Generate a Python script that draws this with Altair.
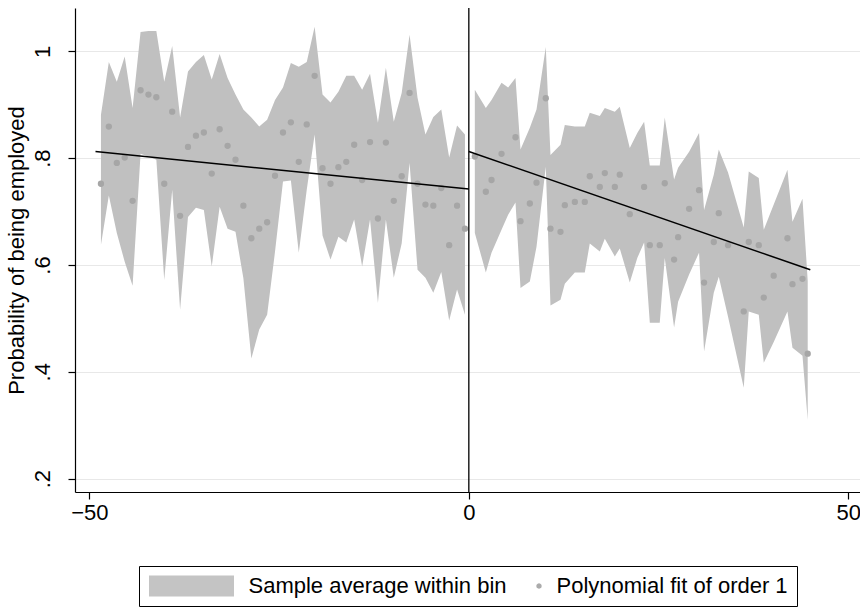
import altair as alt
import pandas as pd

# ---------------- data ----------------
left_x = [-48.48, -47.44, -46.39, -45.35, -44.31, -43.26, -42.22, -41.18, -40.14, -39.09,
          -38.05, -37.01, -35.96, -34.92, -33.88, -32.84, -31.79, -30.75, -29.71, -28.66,
          -27.62, -26.58, -25.54, -24.49, -23.45, -22.41, -21.36, -20.32, -19.28, -18.23,
          -17.19, -16.15, -15.11, -14.06, -13.02, -11.98, -10.93, -9.89, -8.85, -7.81,
          -6.76, -5.72, -4.68, -3.63, -2.59, -1.55, -0.51]
left_mean = [0.752, 0.859, 0.791, 0.801, 0.720, 0.927, 0.919, 0.914, 0.752, 0.887,
             0.692, 0.821, 0.842, 0.848, 0.771, 0.854, 0.823, 0.797, 0.711, 0.650,
             0.668, 0.680, 0.767, 0.848, 0.867, 0.793, 0.863, 0.954, 0.781, 0.752,
             0.783, 0.793, 0.825, 0.759, 0.830, 0.687, 0.829, 0.720, 0.766, 0.922,
             0.752, 0.713, 0.711, 0.744, 0.637, 0.711, 0.668]
left_hi = [0.881, 0.980, 0.943, 0.990, 0.894, 1.036, 1.038, 1.038, 0.943, 1.010,
           0.876, 0.962, 0.980, 0.993, 0.947, 0.995, 0.950, 0.919, 0.891, 0.876,
           0.859, 0.872, 0.909, 0.932, 0.978, 0.971, 0.980, 1.046, 0.919, 0.904,
           0.924, 0.954, 0.954, 0.928, 0.958, 0.866, 0.969, 0.868, 0.922, 1.031,
           0.913, 0.844, 0.877, 0.891, 0.801, 0.861, 0.844]
left_lo = [0.638, 0.730, 0.660, 0.606, 0.561, 0.808, 0.803, 0.797, 0.572, 0.741,
           0.516, 0.690, 0.707, 0.703, 0.597, 0.709, 0.668, 0.662, 0.575, 0.425,
           0.479, 0.507, 0.625, 0.756, 0.758, 0.623, 0.741, 0.844, 0.655, 0.610,
           0.653, 0.642, 0.685, 0.597, 0.685, 0.529, 0.685, 0.576, 0.640, 0.791,
           0.591, 0.576, 0.548, 0.587, 0.496, 0.554, 0.507]

right_x = [0.79, 2.24, 2.99, 4.31, 5.18, 6.15, 6.81, 8.04, 8.92, 10.14,
           10.76, 12.08, 12.65, 13.97, 15.28, 15.94, 17.26, 17.92, 19.24, 19.89,
           21.21, 22.20, 23.10, 23.85, 25.16, 25.82, 27.05, 27.58, 29.03, 30.34,
           31.00, 32.28, 32.94, 34.16, 36.23, 36.89, 38.21, 38.87, 40.18, 41.99,
           42.65, 43.97, 44.66]
right_mean = [0.803, 0.737, 0.759, 0.808, None, 0.839, 0.682, 0.715, 0.754, 0.912,
              0.668, 0.662, 0.712, 0.718, 0.718, 0.766, 0.746, 0.772, 0.746, 0.769,
              0.695, None, 0.746, 0.637, 0.637, 0.753, 0.610, 0.652, 0.705, 0.740,
              0.567, 0.643, 0.697, 0.637, 0.513, 0.643, 0.637, 0.539, 0.580, 0.650,
              0.564, 0.574, 0.434]
right_hi = [0.928, 0.894, 0.909, 0.941, 0.932, 0.950, 0.816, 0.857, 0.891, 1.008,
            0.806, 0.825, 0.862, 0.859, 0.859, 0.885, 0.879, 0.894, 0.887, 0.896,
            0.819, 0.847, 0.868, 0.786, 0.786, 0.876, 0.760, 0.782, 0.812, 0.847,
            0.703, 0.769, 0.816, 0.773, 0.670, 0.775, 0.763, 0.666, 0.713, 0.778,
            0.681, 0.724, 0.570]
right_lo = [0.660, 0.586, 0.623, 0.666, 0.694, 0.717, 0.557, 0.569, 0.634, 0.784,
            0.524, 0.535, 0.565, 0.586, 0.586, 0.640, 0.625, 0.649, 0.616, 0.631,
            0.567, 0.613, 0.642, 0.492, 0.492, 0.613, 0.483, 0.531, 0.582, 0.623,
            0.438, 0.548, 0.578, 0.503, 0.370, 0.513, 0.507, 0.417, 0.456, 0.513,
            0.445, 0.430, 0.310]

fit_left_x = [-49.2, 0.0]
fit_left_y = [0.8125, 0.742]
fit_right_x = [0.0, 45.0]
fit_right_y = [0.8125, 0.591]

cutoff = [0]
legend_labels = ["Sample average within bin", "Polynomial fit of order 1"]
x_ticks = [-50, 0, 50]
y_ticks = [0.2, 0.4, 0.6, 0.8, 1.0]
y_title = "Probability of being employed"

# ---------------- tables ----------------
bins = pd.concat([
    pd.DataFrame({"x": left_x, "mean": left_mean, "lo": left_lo, "hi": left_hi, "side": "left"}),
    pd.DataFrame({"x": right_x, "mean": right_mean, "lo": right_lo, "hi": right_hi, "side": "right"}),
], ignore_index=True)
fit = pd.concat([
    pd.DataFrame({"x": fit_left_x, "y": fit_left_y, "side": "left"}),
    pd.DataFrame({"x": fit_right_x, "y": fit_right_y, "side": "right"}),
], ignore_index=True)
cut_df = pd.DataFrame({"x": cutoff})
leg_df = pd.DataFrame({"series": legend_labels})

# ---------------- styling ----------------
FONT = "Liberation Sans"
AREA_GRAY = "#c0c0c0"
DOT_GRAY = "#a6a6a6"

xscale = alt.Scale(domain=[-51.9, 51.55], nice=False, zero=False)
yscale = alt.Scale(domain=[0.175, 1.081], nice=False, zero=False)

x_axis = alt.Axis(values=x_ticks, title=None, grid=False, domainColor="black", domainWidth=1.2,
                  tickColor="black", tickSize=7, tickWidth=1.2, labelFont=FONT, labelFontSize=22,
                  labelColor="black", labelPadding=3, labelFlush=False)
y_axis = alt.Axis(values=y_ticks, title=y_title, grid=True, gridColor="#e8e8e8", gridWidth=1.2,
                  domainColor="black", domainWidth=1.2, tickColor="black", tickSize=7, tickWidth=1.2,
                  labelFont=FONT, labelFontSize=22, labelColor="black", labelAngle=-90,
                  labelAlign="center", labelBaseline="alphabetic", labelPadding=19,
                  labelExpr="datum.value >= 1 ? '1' : substring(format(datum.value, '.1f'), 1)",
                  titleFont=FONT, titleFontSize=22, titleFontWeight="normal", titleColor="black",
                  titleAngle=-90, titleAlign="center", titleBaseline="bottom", titleX=-47, titleY=242)

base_x = alt.X("x:Q", scale=xscale, axis=x_axis)

band = alt.Chart(bins).mark_area(color=AREA_GRAY, opacity=1).encode(
    x=base_x,
    y=alt.Y("lo:Q", scale=yscale, axis=y_axis),
    y2="hi:Q",
    detail="side:N",
)

dots = alt.Chart(bins).mark_circle(color=DOT_GRAY, size=40, opacity=1).encode(
    x=base_x,
    y=alt.Y("mean:Q", scale=yscale, axis=y_axis),
)

lines = alt.Chart(fit).mark_line(color="black", strokeWidth=1.5).encode(
    x=base_x,
    y=alt.Y("y:Q", scale=yscale, axis=y_axis),
    detail="side:N",
)

cut = alt.Chart(cut_df).mark_rule(color="black", strokeWidth=1.3).encode(x=base_x)

# legend symbols (unit = half of a 21 px symbol cell): wide swatch extends left, small dot centred
RECT_PATH = "M-7.81,-1H0.286V1H-7.81Z"
DOT_PATH = ("M0.26,0L0.225,0.13L0.13,0.225L0,0.26L-0.13,0.225L-0.225,0.13L-0.26,0"
            "L-0.225,-0.13L-0.13,-0.225L0,-0.26L0.13,-0.225L0.225,-0.13Z")

# a blank (no-break space) title on the left reserves room inside the frame for the wide swatch
leg = alt.Legend(orient="none", legendX=64, legendY=558, direction="horizontal",
                 title="\u00a0", titleOrient="left", titlePadding=72, titleFontSize=22,
                 titleFont=FONT, titleColor="white",
                 strokeColor="black", fillColor="white", padding=9, cornerRadius=0,
                 symbolSize=441, symbolStrokeWidth=0, symbolOpacity=1,
                 labelFont=FONT, labelFontSize=22, labelColor="black", labelOffset=6.5,
                 labelLimit=400, columnPadding=21)

legend_layer = alt.Chart(leg_df).mark_point(filled=True, opacity=0).encode(
    color=alt.Color("series:N", scale=alt.Scale(domain=legend_labels, range=["#c4c4c4", "#ababab"]),
                    legend=leg),
    shape=alt.Shape("series:N", scale=alt.Scale(domain=legend_labels, range=[RECT_PATH, DOT_PATH]),
                    legend=leg),
)

chart = alt.layer(band, dots, lines, cut, legend_layer).properties(
    width=785, height=484,
    autosize=alt.AutoSizeParams(type="none"),
    padding={"left": 75, "top": 8, "right": 0, "bottom": 117},
    background="white",
).configure_view(stroke=None)

chart.save("out.html", embed_options={"renderer": "svg", "actions": False})
